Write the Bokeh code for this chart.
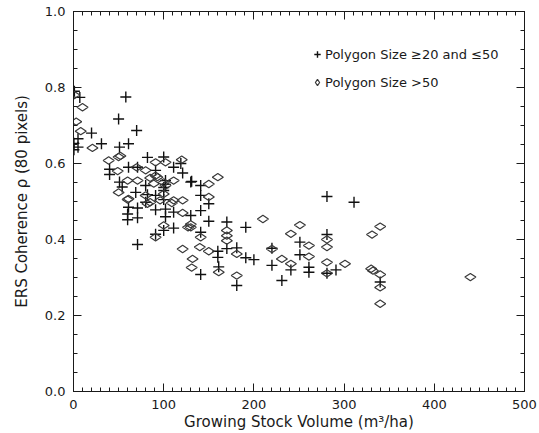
import numpy as np
from bokeh.plotting import figure
from bokeh.models import (LinearAxis, Legend, LegendItem, Range1d, FixedTicker,
                          CustomLabelingPolicy)
from bokeh.embed import file_html
from bokeh.resources import INLINE

# Polygon size >=20 and <=50 ("+")
plus_x = [1, 7, 58, 50, 20, 70, 5, 0.5, 5, 0.5, 31, 51, 61, 82, 40, 40, 61, 71, 100, 91,
          111, 119, 121, 51, 102, 80, 54, 69, 80, 91, 100, 100, 61, 71, 91, 102, 102, 60,
          60, 71, 111, 71, 91, 100, 131, 141, 141, 150, 130, 141, 141, 150, 170, 170, 191,
          181, 160, 160, 191, 200, 141, 161, 181, 130, 220, 220, 251, 251, 241, 261, 261,
          231, 281, 311, 281, 281, 291, 340, 82, 102, 100, 111]
plus_y = [0.79, 0.774, 0.775, 0.717, 0.68, 0.687, 0.665, 0.653, 0.643, 0.636, 0.652, 0.643,
          0.652, 0.616, 0.585, 0.571, 0.59, 0.59, 0.617, 0.582, 0.59, 0.60, 0.575, 0.551,
          0.555, 0.542, 0.538, 0.524, 0.498, 0.516, 0.529, 0.505, 0.485, 0.483, 0.478, 0.48,
          0.46, 0.467, 0.452, 0.457, 0.43, 0.387, 0.414, 0.424, 0.553, 0.542, 0.516, 0.494,
          0.463, 0.476, 0.419, 0.448, 0.446, 0.376, 0.432, 0.378, 0.369, 0.353, 0.352,
          0.347, 0.308, 0.328, 0.279, 0.551, 0.377, 0.332, 0.393, 0.36, 0.32, 0.327, 0.314,
          0.292, 0.513, 0.498, 0.413, 0.311, 0.32, 0.288, 0.518, 0.545, 0.537, 0.472]

# Polygon size >50 (diamond)
diam_x = [1, 10, 3, 8, 21, 39, 50, 49, 52, 70, 80, 91, 102, 120, 60, 71, 85, 93, 89, 102,
          111, 50, 60, 80, 85, 96, 111, 121, 121, 100, 91, 127, 91, 150, 160, 150, 109, 130,
          141, 170, 170, 170, 121, 140, 150, 181, 132, 131, 161, 181, 210, 220, 231, 241,
          251, 261, 241, 261, 281, 281, 281, 281, 301, 331, 330, 332, 340, 340, 340, 340,
          440, 82, 61, 130, 100, 100]
diam_y = [0.78, 0.748, 0.71, 0.685, 0.641, 0.608, 0.617, 0.58, 0.62, 0.59, 0.582, 0.603,
          0.603, 0.61, 0.555, 0.555, 0.562, 0.564, 0.547, 0.542, 0.555, 0.524, 0.505, 0.516,
          0.498, 0.503, 0.503, 0.503, 0.47, 0.437, 0.406, 0.432, 0.568, 0.546, 0.564, 0.512,
          0.496, 0.432, 0.406, 0.424, 0.41, 0.397, 0.375, 0.38, 0.369, 0.362, 0.349, 0.326,
          0.314, 0.305, 0.454, 0.375, 0.349, 0.415, 0.438, 0.384, 0.336, 0.355, 0.40, 0.38,
          0.34, 0.311, 0.336, 0.413, 0.323, 0.318, 0.434, 0.308, 0.274, 0.231, 0.301, 0.494,
          0.507, 0.44, 0.55, 0.52]

x_ticks = [0, 100, 200, 300, 400, 500]
y_ticks = [0.0, 0.2, 0.4, 0.6, 0.8, 1.0]
y_tick_labels = ["0.0", "0.2", "0.4", "0.6", "0.8", "1.0"]

FONT = "DejaVu Sans"
INK = "#1a1a1a"

p = figure(width=539, height=433, x_range=Range1d(0, 500), y_range=Range1d(0, 1),
           output_backend="svg", toolbar_location=None,
           min_border_left=73, min_border_right=15, min_border_top=11, min_border_bottom=42)
p.background_fill_color = "white"
p.border_fill_color = "white"
p.outline_line_color = INK
p.grid.visible = False

x_minor = [float(v) for v in np.arange(0, 501, 10)]
y_minor = [float(v) for v in np.arange(0, 1.001, 0.05)]
xt = FixedTicker(ticks=x_ticks, minor_ticks=x_minor)
yt = FixedTicker(ticks=y_ticks, minor_ticks=y_minor)

hide_all = CustomLabelingPolicy(code="""
const all = Array.from(indices)
for (const i of all) { indices.unset(i) }
return indices
""")


def style(ax, size="13px"):
    ax.axis_line_color = INK
    ax.major_tick_line_color = INK
    ax.minor_tick_line_color = INK
    ax.major_tick_in = 8
    ax.major_tick_out = 0
    ax.minor_tick_in = 4
    ax.minor_tick_out = 0
    ax.major_label_text_font = FONT
    ax.major_label_text_color = INK
    ax.major_label_text_font_size = size
    ax.axis_label_text_font = FONT
    ax.axis_label_text_font_style = "normal"
    ax.axis_label_text_color = INK
    ax.axis_label_text_font_size = "15px"


xa = p.xaxis[0]
xa.ticker = xt
style(xa)
xa.axis_label = "Growing Stock Volume (m³/ha)"
xa.major_label_standoff = 8
xa.axis_label_standoff = 1

ya = p.yaxis[0]
ya.ticker = yt
style(ya)
ya.major_label_overrides = {v: s for v, s in zip(y_ticks, y_tick_labels)}
ya.axis_label = "ERS Coherence ρ (80 pixels)"
ya.major_label_standoff = 8
ya.axis_label_standoff = 11

top = LinearAxis(ticker=xt, major_label_policy=hide_all)
style(top, "0px")
top.major_label_standoff = 0
p.add_layout(top, "above")
right = LinearAxis(ticker=yt, major_label_policy=hide_all)
style(right, "0px")
right.major_label_standoff = 0
p.add_layout(right, "right")

r_plus = p.scatter(plus_x, plus_y, marker="cross", size=11, line_color="#111111",
                   line_width=1.4)
r_diam = p.scatter(diam_x, diam_y, marker="diamond", angle=np.pi / 2, size=11,
                   line_color="#3a3a3a", fill_color=None, line_width=1.2)

legend = Legend(items=[LegendItem(label="Polygon Size ≥20 and ≤50", renderers=[r_plus]),
                       LegendItem(label="Polygon Size >50", renderers=[r_diam])],
                location=(236, 300), orientation="vertical")
legend.border_line_color = None
legend.background_fill_alpha = 0
legend.padding = 0
legend.margin = 0
legend.spacing = 10
legend.glyph_width = 16
legend.glyph_height = 18
legend.label_height = 18
legend.label_standoff = 0
legend.label_text_font = FONT
legend.label_text_font_size = "13px"
legend.label_text_color = INK
p.add_layout(legend, "center")

open("out.html", "w").write(file_html(p, INLINE))
